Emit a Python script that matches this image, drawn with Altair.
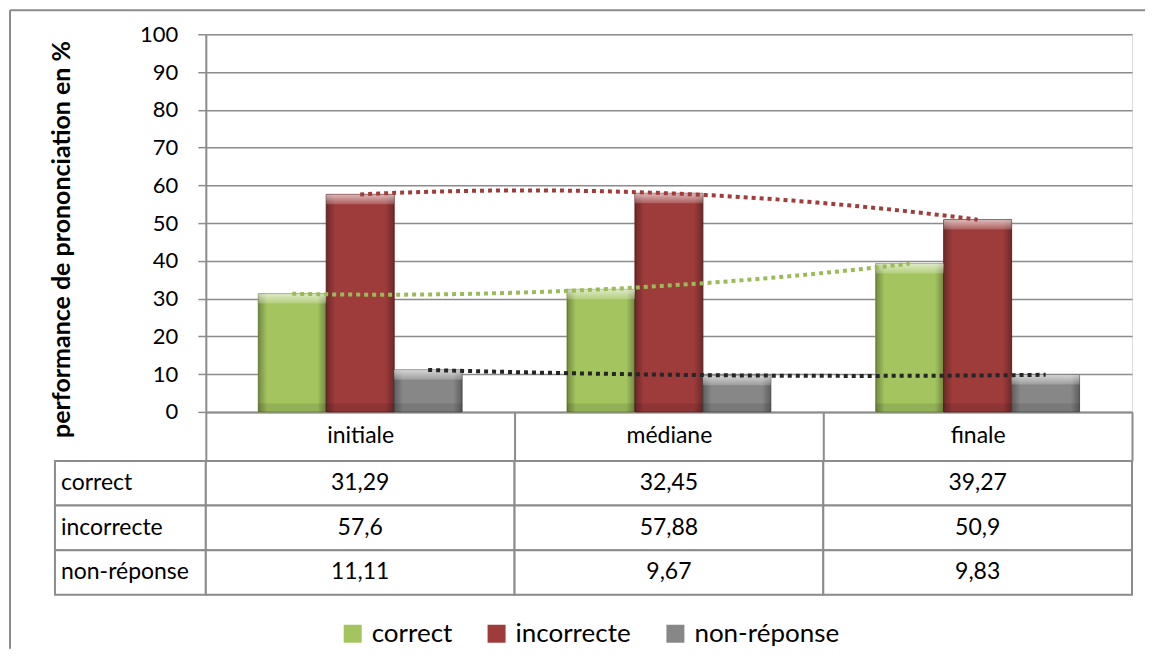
import json
import altair as alt
import pandas as pd

# ---------------- data ----------------
phases = ["initiale", "médiane", "finale"]
series = ["correct", "incorrecte", "non-réponse"]
correct = [31.29, 32.45, 39.27]
incorrecte = [57.6, 57.88, 50.9]
non_reponse = [11.11, 9.67, 9.83]
y_ticks = [0, 10, 20, 30, 40, 50, 60, 70, 80, 90, 100]

# ---------------- styles ----------------
fill_colors = ["#A3C45F", "#9E3B3B", "#878787"]
edge_colors = ["#7E9A48", "#732B2B", "#626262"]
trend_colors = ["#9BBB59", "#A03C3C", "#262626"]
GRID = "#8C8C8C"
FONT = "Lato"
YTITLE = "performance de prononciation en %"

rows = []
for s, vals in zip(series, [correct, incorrecte, non_reponse]):
    for p, v in zip(phases, vals):
        rows.append({"phase": p, "serie": s, "value": v})
df = pd.DataFrame(rows)
row_df = pd.DataFrame({"serie": series})
one = pd.DataFrame({"k": [0]})

W, H = 927, 378
PH = json.dumps(phases, ensure_ascii=False)
SE = json.dumps(series, ensure_ascii=False)

x_bar = alt.X(
    "phase:N", sort=phases,
    scale=alt.Scale(domain=phases, paddingInner=0, paddingOuter=0),
    axis=alt.Axis(title=None, orient="bottom", tickBand="extent", tickSize=49,
                  tickColor=GRID, tickWidth=2, domainColor=GRID, domainWidth=2,
                  labelFont=FONT, labelFontSize=23, labelFontWeight="normal",
                  labelColor="#000", labelPadding=-25, labelBaseline="middle",
                  labelAngle=0, grid=False),
)
x_off = alt.XOffset("serie:N", sort=series,
                    scale=alt.Scale(domain=series, paddingInner=0, paddingOuter=0.772))
y_axis = alt.Axis(values=y_ticks, grid=True, gridColor=GRID, gridWidth=1.5,
                  domainColor=GRID, domainWidth=2, tickColor=GRID, tickSize=8, tickWidth=1.5,
                  labelFont=FONT, labelFontSize=22, labelFontWeight="normal",
                  labelColor="#000", labelPadding=20,
                  title=YTITLE, titleFont=FONT,
                  titleFontSize=25, titleFontWeight="bold", titleColor="#000",
                  titleX=-136, titleY=205, titleBaseline="alphabetic")
y_scale = alt.Scale(domain=[0, 100], nice=False)


def yq(field):
    return alt.Y(field, stack=None, scale=y_scale, axis=y_axis, title=YTITLE)


bars = alt.Chart(df).mark_bar(strokeWidth=1).encode(
    x=x_bar, xOffset=x_off, y=yq("value:Q"),
    fill=alt.Fill("serie:N", sort=series,
                  scale=alt.Scale(domain=series, range=fill_colors),
                  legend=alt.Legend(title=None, orient="none", direction="horizontal",
                                    legendX=134, legendY=587, padding=0,
                                    symbolType="square", symbolSize=324,
                                    symbolStrokeWidth=0, labelFont=FONT,
                                    labelFontSize=26, labelColor="#000",
                                    labelOffset=6, columnPadding=31)),
    stroke=alt.Stroke("serie:N", sort=series,
                      scale=alt.Scale(domain=series, range=edge_colors), legend=None),
)

side_shade = alt.Chart(df).mark_bar(
    fill={"gradient": "linear", "x1": 0, "x2": 1, "y1": 0, "y2": 0,
          "stops": [{"offset": 0, "color": "rgba(0,0,0,0.30)"},
                    {"offset": 0.13, "color": "rgba(0,0,0,0)"},
                    {"offset": 0.87, "color": "rgba(0,0,0,0)"},
                    {"offset": 1, "color": "rgba(0,0,0,0.30)"}]}
).encode(x=x_bar, xOffset=x_off, y=yq("value:Q"))

top_bevel = alt.Chart(df).transform_calculate(
    top2="datum.value - 2.6"
).mark_bar(
    fill={"gradient": "linear", "x1": 0, "x2": 0, "y1": 0, "y2": 1,
          "stops": [{"offset": 0, "color": "rgba(255,255,255,0.65)"},
                    {"offset": 1, "color": "rgba(255,255,255,0.18)"}]}
).encode(x=x_bar, xOffset=x_off, y=yq("value:Q"), y2="top2:Q")

bottom_bevel = alt.Chart(df).transform_calculate(
    zero="0", bot="2.2"
).mark_bar(fill="rgba(0,0,0,0.10)").encode(
    x=x_bar, xOffset=x_off, y=yq("zero:Q"), y2="bot:Q")

bar_group = alt.layer(bars, side_shade, top_bevel, bottom_bevel)

trend = alt.Chart(df).transform_calculate(
    pos=f"indexof({PH}, datum.phase) + (indexof({SE}, datum.serie) - 1) * 0.2201"
).transform_regression(
    "pos", "value", method="poly", order=2, groupby=["serie"]
).mark_line(strokeWidth=4, strokeDash=[4, 4]).encode(
    x=alt.X("pos:Q", scale=alt.Scale(domain=[-0.5, 2.5], nice=False, zero=False), axis=None),
    y=yq("value:Q"),
    color=alt.Color("serie:N", sort=series,
                    scale=alt.Scale(domain=series, range=trend_colors), legend=None),
    detail="serie:N",
)

left_border = alt.Chart(one).mark_rule(color=GRID, strokeWidth=2).encode(
    x=alt.value(-196), y=alt.value(-24), y2=alt.value(615))
top_border = alt.Chart(one).mark_rule(color=GRID, strokeWidth=2).encode(
    x=alt.value(-196), x2=alt.value(940), y=alt.value(-24))

top = alt.layer(bar_group, trend, left_border, top_border
                ).resolve_scale(x="independent").properties(width=W, height=H)

# ---------------- data table ----------------
x_tab = alt.X("phase:N", sort=phases,
              scale=alt.Scale(domain=phases, paddingInner=0, paddingOuter=0), axis=None)
y_tab = alt.Y("serie:N", sort=series,
              scale=alt.Scale(domain=series, paddingInner=0, paddingOuter=0), axis=None)

tbase = alt.Chart(df).transform_calculate(label="replace(toString(datum.value), '.', ',')")
cells = tbase.mark_rect(fill="white", stroke=GRID, strokeWidth=2).encode(x=x_tab, y=y_tab)
vals = tbase.mark_text(font=FONT, fontSize=23, color="#000").encode(
    x=x_tab, y=y_tab, text="label:N")
row_cells = alt.Chart(row_df).mark_rect(fill="white", stroke=GRID, strokeWidth=2).encode(
    x=alt.value(-151), x2=alt.value(0), y=y_tab)
row_text = alt.Chart(row_df).mark_text(font=FONT, fontSize=23, color="#000", align="left").encode(
    x=alt.value(-145), y=y_tab, text="serie:N")

table = alt.layer(row_cells, cells, vals, row_text).properties(width=W, height=134)

chart = alt.vconcat(top, table, spacing=49).properties(
    padding=0, bounds="flush"
).configure_view(stroke="transparent").configure(font=FONT)

chart.save("out.html", embed_options={"renderer": "svg", "actions": False})
